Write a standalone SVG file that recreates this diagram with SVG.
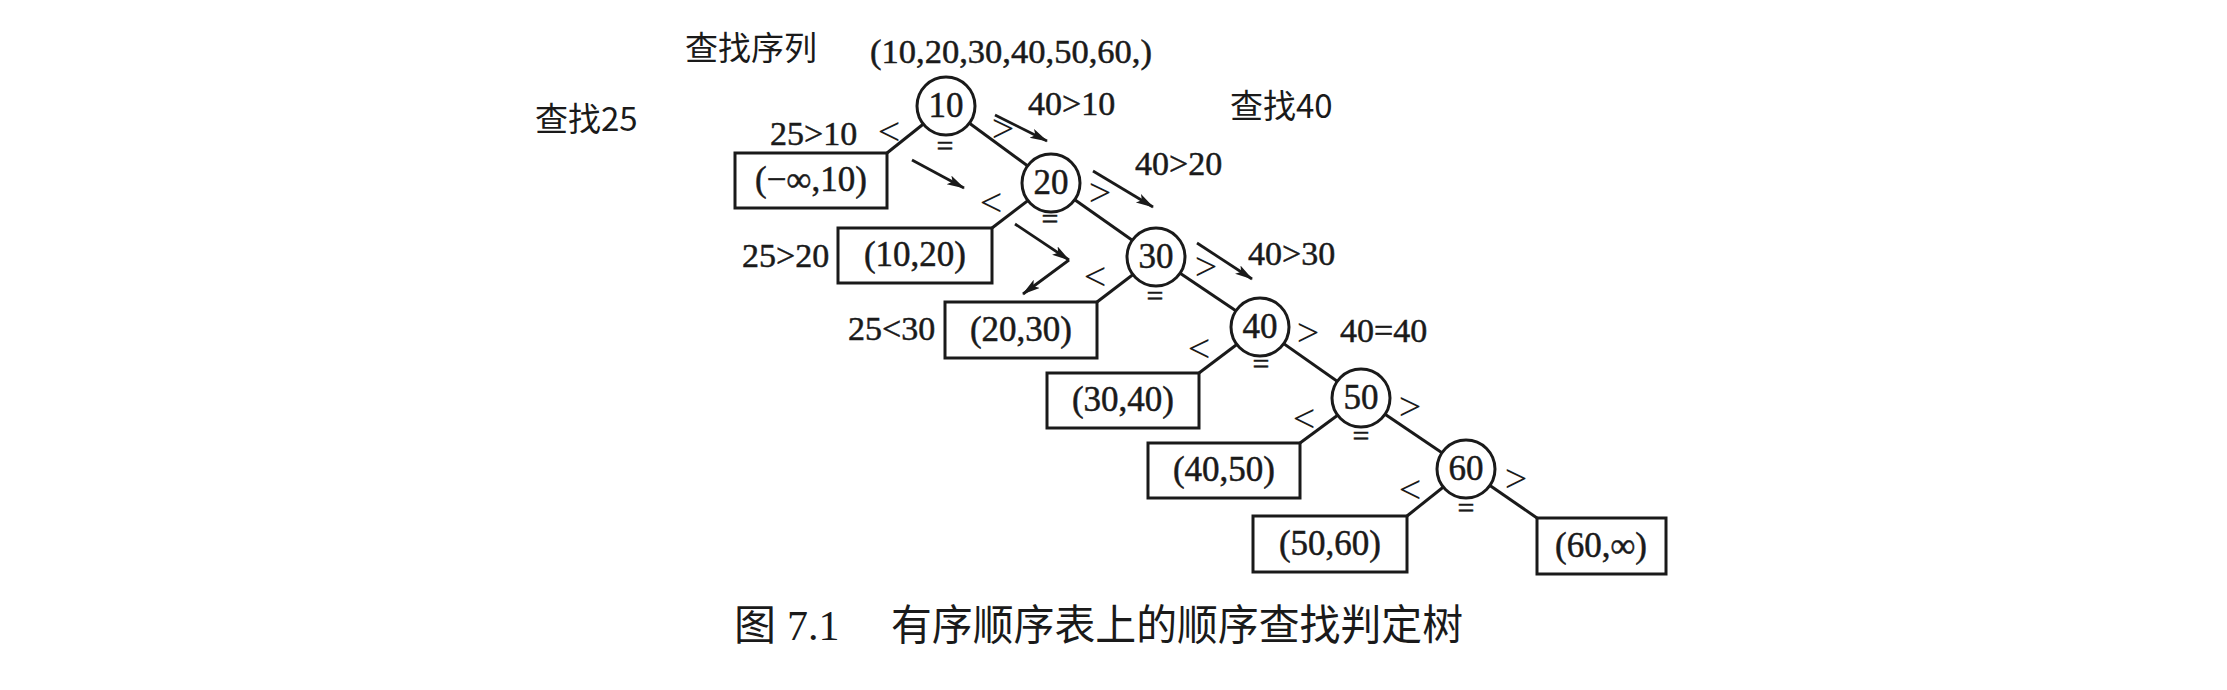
<svg xmlns="http://www.w3.org/2000/svg" width="2227" height="690" viewBox="0 0 2227 690">
<style>
.bg{fill:#ffffff}
.node circle{fill:#ffffff;stroke:#1a1a1a;stroke-width:3}
.node rect{fill:#ffffff;stroke:#1a1a1a;stroke-width:3}
.edge{stroke:#1a1a1a;stroke-width:3;fill:none}
.arrow{stroke:#1a1a1a;stroke-width:2.8;fill:none;marker-end:url(#ah)}
.t{font-family:"Liberation Serif","Times New Roman",serif;font-size:34px;fill:#1a1a1a;stroke:#1a1a1a;stroke-width:0.5}
.tb{font-family:"Liberation Serif","Times New Roman",serif;font-size:35px;fill:#1a1a1a;text-anchor:middle;stroke:#1a1a1a;stroke-width:0.5}
.s{font-family:"Liberation Serif","Times New Roman",serif;font-size:40px;fill:#1a1a1a;text-anchor:middle}
.eq{font-family:"Liberation Serif","Times New Roman",serif;font-size:30px;fill:#1a1a1a;text-anchor:middle;stroke:#1a1a1a;stroke-width:0.5}
.cjk{font-family:"Noto Sans CJK SC","Noto Sans",sans-serif;font-size:33px;fill:#1a1a1a}
.cap{font-family:"Noto Sans CJK SC","Noto Sans",sans-serif;font-size:42px;fill:#1a1a1a}
.capn{font-family:"Liberation Serif","Times New Roman",serif;font-size:42px;fill:#1a1a1a}
</style>
<defs>
<marker id="ah" markerUnits="userSpaceOnUse" markerWidth="20" markerHeight="12" refX="17" refY="5" orient="auto">
<path d="M0,0 L18,5 L0,10 L4,5 z" fill="#1a1a1a"/>
</marker>
</defs>
<rect class="bg" x="0" y="0" width="2227" height="690"/>

<!-- connectors -->
<g id="connectors">
<line class="edge" x1="946" y1="106" x2="887" y2="153"/>
<line class="edge" x1="946" y1="106" x2="1051" y2="183"/>
<line class="edge" x1="1051" y1="183" x2="992" y2="228"/>
<line class="edge" x1="1051" y1="183" x2="1156" y2="257"/>
<line class="edge" x1="1156" y1="257" x2="1097" y2="302"/>
<line class="edge" x1="1156" y1="257" x2="1260" y2="327"/>
<line class="edge" x1="1260" y1="327" x2="1199" y2="373"/>
<line class="edge" x1="1260" y1="327" x2="1361" y2="398"/>
<line class="edge" x1="1361" y1="398" x2="1300" y2="443"/>
<line class="edge" x1="1361" y1="398" x2="1466" y2="469"/>
<line class="edge" x1="1466" y1="469" x2="1407" y2="516"/>
<line class="edge" x1="1466" y1="469" x2="1537" y2="518"/>
</g>

<!-- nodes -->
<g id="n10" class="node"><circle cx="946" cy="106" r="29"/><text class="tb" x="946" y="117">10</text></g>
<g id="n20" class="node"><circle cx="1051" cy="183" r="29"/><text class="tb" x="1051" y="194">20</text></g>
<g id="n30" class="node"><circle cx="1156" cy="257" r="29"/><text class="tb" x="1156" y="268">30</text></g>
<g id="n40" class="node"><circle cx="1260" cy="327" r="29"/><text class="tb" x="1260" y="338">40</text></g>
<g id="n50" class="node"><circle cx="1361" cy="398" r="29"/><text class="tb" x="1361" y="409">50</text></g>
<g id="n60" class="node"><circle cx="1466" cy="469" r="29"/><text class="tb" x="1466" y="480">60</text></g>

<g id="b0" class="node"><rect x="735" y="153" width="152" height="55"/><text class="tb" x="811" y="191">(−∞,10)</text></g>
<g id="b1" class="node"><rect x="838" y="228" width="154" height="55"/><text class="tb" x="915" y="266">(10,20)</text></g>
<g id="b2" class="node"><rect x="945" y="302" width="152" height="56"/><text class="tb" x="1021" y="341">(20,30)</text></g>
<g id="b3" class="node"><rect x="1047" y="373" width="152" height="55"/><text class="tb" x="1123" y="411">(30,40)</text></g>
<g id="b4" class="node"><rect x="1148" y="443" width="152" height="55"/><text class="tb" x="1224" y="481">(40,50)</text></g>
<g id="b5" class="node"><rect x="1253" y="516" width="154" height="56"/><text class="tb" x="1330" y="555">(50,60)</text></g>
<g id="b6" class="node"><rect x="1537" y="518" width="129" height="56"/><text class="tb" x="1601" y="557">(60,∞)</text></g>

<!-- edge symbols -->
<g id="symbols">
<text class="s" x="889" y="145">&lt;</text>
<text class="s" x="991" y="216">&lt;</text>
<text class="s" x="1095" y="290">&lt;</text>
<text class="s" x="1199" y="362">&lt;</text>
<text class="s" x="1304" y="432">&lt;</text>
<text class="s" x="1410" y="503">&lt;</text>
<text class="s" x="1003" y="142">&gt;</text>
<text class="s" x="1100" y="206">&gt;</text>
<text class="s" x="1206" y="280">&gt;</text>
<text class="s" x="1308" y="346">&gt;</text>
<text class="s" x="1410" y="420">&gt;</text>
<text class="s" x="1516" y="492">&gt;</text>
<text class="eq" x="945" y="156">=</text>
<text class="eq" x="1050" y="229">=</text>
<text class="eq" x="1155" y="306">=</text>
<text class="eq" x="1261" y="374">=</text>
<text class="eq" x="1361" y="446">=</text>
<text class="eq" x="1466" y="518">=</text>
</g>

<!-- search path arrows -->
<g id="arrows">
<line class="arrow" x1="995" y1="115" x2="1047" y2="141"/>
<line class="arrow" x1="1093" y1="171" x2="1153" y2="207"/>
<line class="arrow" x1="1197" y1="243" x2="1252" y2="279"/>
<line class="arrow" x1="912" y1="160" x2="964" y2="188"/>
<line class="arrow" x1="1015" y1="224" x2="1069" y2="260"/>
<line class="arrow" x1="1069" y1="260" x2="1023" y2="294"/>
</g>

<!-- labels -->
<g id="labels">
<text class="cjk" x="685" y="60">查找序列</text>
<text class="t" x="870" y="63" textLength="282" lengthAdjust="spacingAndGlyphs">(10,20,30,40,50,60,)</text>
<text class="cjk" x="535" y="131">查找25</text>
<text class="cjk" x="1230" y="118">查找40</text>
<text class="t" x="1028" y="115">40&gt;10</text>
<text class="t" x="770" y="145">25&gt;10</text>
<text class="t" x="1135" y="175">40&gt;20</text>
<text class="t" x="742" y="267">25&gt;20</text>
<text class="t" x="1248" y="265">40&gt;30</text>
<text class="t" x="848" y="340">25&lt;30</text>
<text class="t" x="1340" y="342">40=40</text>
</g>

<!-- caption -->
<g id="caption">
<text class="cap" x="734" y="640">图</text>
<text class="capn" x="787" y="640">7.1</text>
<text class="cap" x="891" y="640" textLength="572" lengthAdjust="spacingAndGlyphs">有序顺序表上的顺序查找判定树</text>
</g>
</svg>
